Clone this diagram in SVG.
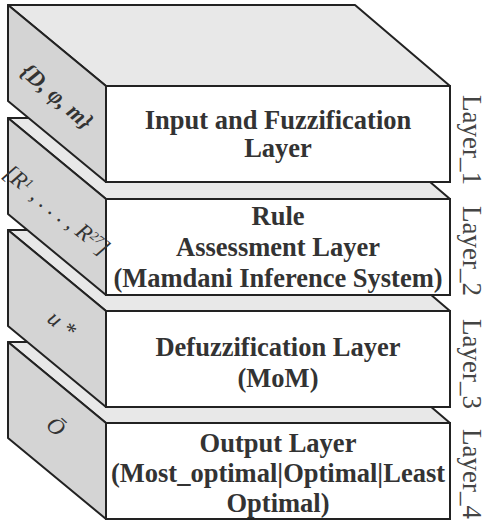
<svg xmlns="http://www.w3.org/2000/svg" width="487" height="523" viewBox="0 0 487 523">
<style>
.top{fill:#e8e8e8;stroke:#222;stroke-width:2;stroke-linejoin:round}
.side{fill:#d4d4d4;stroke:#222;stroke-width:2;stroke-linejoin:round}
.front{fill:#fff;stroke:#222;stroke-width:2}
.t{font-family:"Liberation Serif","Times New Roman",serif;font-weight:bold;font-size:26.5px;fill:#333;text-anchor:middle}
.lbl{font-family:"Liberation Serif","Times New Roman",serif;font-size:27px;fill:#444;text-anchor:middle}
.s{font-family:"Liberation Serif","Times New Roman",serif;font-style:italic;font-size:23px;fill:#333;text-anchor:middle}
</style>
<rect width="487" height="523" fill="#fff"/>
<g id="layer4">
<polygon class="top" points="8,342 355,342 450,423 106,423"/>
<polygon class="side" points="8,342 106,423 106,519 8,438"/>
<rect class="front" x="106" y="423" width="344" height="96"/>
<text class="t" x="278" y="452">Output Layer</text>
<text class="t" x="278" y="482">(Most_optimal|Optimal|Least</text>
<text class="t" x="278" y="512">Optimal)</text>
<text class="s" font-size="25" transform="translate(51,432) rotate(42)">Ō</text>
<text class="lbl" transform="translate(463,474) rotate(90)">Layer_4</text>
</g>
<g id="layer3">
<polygon class="top" points="8,230 355,230 450,311 106,311"/>
<polygon class="side" points="8,230 106,311 106,407 8,326"/>
<rect class="front" x="106" y="311" width="344" height="96"/>
<text class="t" x="278" y="356">Defuzzification Layer</text>
<text class="t" x="278" y="387">(MoM)</text>
<text class="s" font-size="25" transform="translate(57,330) rotate(40)">u *</text>
<text class="lbl" transform="translate(463,364) rotate(90)">Layer_3</text>
</g>
<g id="layer2">
<polygon class="top" points="8,118 355,118 450,199 106,199"/>
<polygon class="side" points="8,118 106,199 106,295 8,214"/>
<rect class="front" x="106" y="199" width="344" height="96"/>
<text class="t" x="278" y="225">Rule</text>
<text class="t" x="278" y="256">Assessment Layer</text>
<text class="t" x="278" y="287">(Mamdani Inference System)</text>
<text class="s" font-size="20" transform="translate(52,216) rotate(39)">[R<tspan dy="-7" font-size="13">1</tspan><tspan dy="7"> , . . . , R</tspan><tspan dy="-7" font-size="13">27</tspan><tspan dy="7">]</tspan></text>
<text class="lbl" transform="translate(463,251) rotate(90)">Layer_2</text>
</g>
<g id="layer1">
<polygon class="top" points="8,5 355,5 450,86 106,86"/>
<polygon class="side" points="8,5 106,86 106,182 8,101"/>
<rect class="front" x="106" y="86" width="344" height="96"/>
<text class="t" x="278" y="129">Input and Fuzzification</text>
<text class="t" x="278" y="157">Layer</text>
<text class="s" font-weight="bold" transform="translate(52,102) rotate(41)">{D, φ, m}</text>
<text class="lbl" transform="translate(463,140) rotate(90)">Layer_1</text>
</g>
<g id="connectors"/>
</svg>
